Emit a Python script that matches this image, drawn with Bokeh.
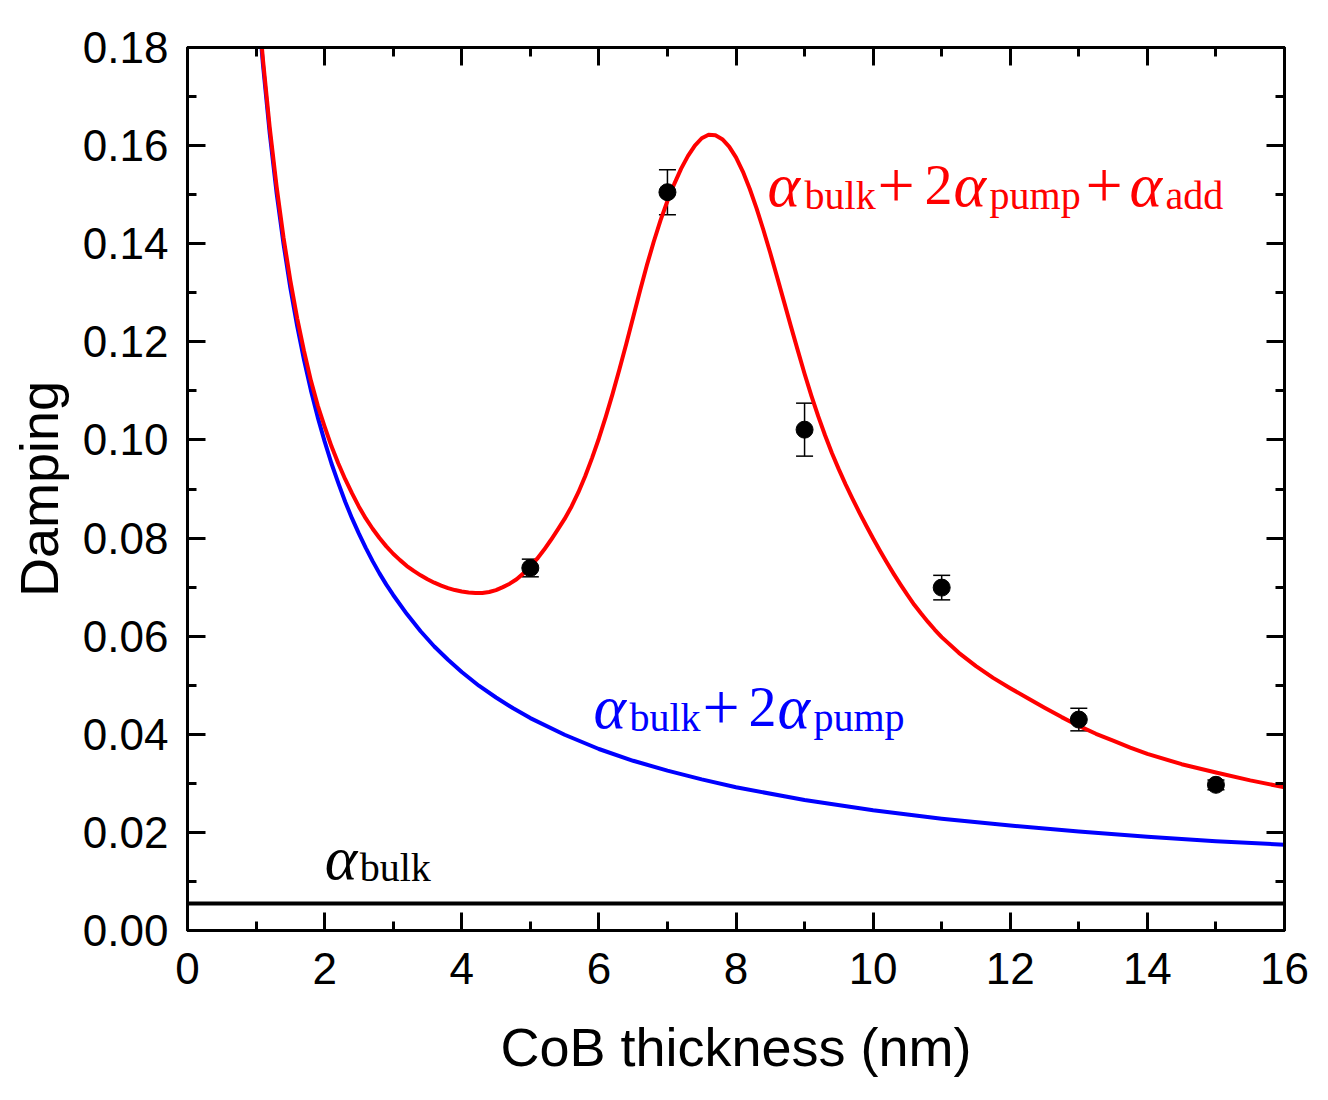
from bokeh.plotting import figure
from bokeh.models import (Range1d, LinearAxis, FixedTicker, PrintfTickFormatter,
                          ColumnDataSource, Whisker, TeeHead, Span, Label)
from bokeh.embed import file_html
from bokeh.resources import INLINE

# ---------------- data ----------------
thickness = [5, 7, 9, 11, 13, 15]
damping = [0.0739, 0.1505, 0.1021, 0.0699, 0.0430, 0.0297]
damping_err = [0.0018, 0.0046, 0.0054, 0.0025, 0.0023, 0.0010]

alpha_bulk = 0.0055

blue_t = [1.05, 1.1, 1.2, 1.3, 1.4, 1.5, 1.6, 1.7, 1.8, 1.9, 2.0, 2.1, 2.2, 2.3, 2.4,
          2.5, 2.6, 2.7, 2.8, 2.9, 3.0, 3.2, 3.4, 3.6, 3.8, 4.0, 4.25, 4.5, 4.75, 5.0,
          5.5, 6.0, 6.5, 7.0, 7.5, 8.0, 9.0, 10.0, 11.0, 12.0, 13.0, 14.0, 15.0, 16.0]
blue_v = [0.1848, 0.1766, 0.1624, 0.1503, 0.1400, 0.1310, 0.1232, 0.1163, 0.1101, 0.1046,
          0.0997, 0.0952, 0.0912, 0.0874, 0.0840, 0.0809, 0.0780, 0.0753, 0.0728, 0.0705,
          0.0684, 0.0645, 0.0610, 0.0579, 0.0552, 0.0527, 0.0499, 0.0475, 0.0453, 0.0433,
          0.0399, 0.0370, 0.0346, 0.0326, 0.0308, 0.0292, 0.0266, 0.0245, 0.0228, 0.0214,
          0.0202, 0.0191, 0.0182, 0.0175]

red_t = [1.05, 1.1, 1.2, 1.3, 1.4, 1.5, 1.6, 1.7, 1.8, 1.9,
         2.0, 2.1, 2.2, 2.3, 2.4, 2.5, 2.6, 2.7, 2.8, 2.9,
         3.0, 3.1, 3.2, 3.3, 3.4, 3.5, 3.6, 3.7, 3.8, 3.9,
         4.0, 4.1, 4.2, 4.3, 4.4, 4.5, 4.6, 4.7, 4.8, 4.9,
         5.0, 5.1, 5.2, 5.3, 5.4, 5.5, 5.6, 5.7, 5.8, 5.9,
         6.0, 6.1, 6.2, 6.3, 6.4, 6.5, 6.6, 6.7, 6.8, 6.9,
         7.0, 7.1, 7.2, 7.3, 7.4, 7.5, 7.6, 7.7, 7.8, 7.9,
         8.0, 8.1, 8.2, 8.3, 8.4, 8.5, 8.6, 8.7, 8.8, 8.9,
         9.0, 9.1, 9.2, 9.3, 9.4, 9.5, 9.6, 9.7, 9.8, 9.9,
         10.0, 10.1, 10.2, 10.3, 10.4, 10.5, 10.6, 10.7, 10.8, 10.9,
         11.0, 11.25, 11.5, 11.75, 12.0, 12.25, 12.5, 12.75, 13.0, 13.25, 13.5, 13.75,
         14.0, 14.5, 15.0, 15.5, 16.0]
red_v = [0.1858, 0.1776, 0.1636, 0.1516, 0.1413, 0.1325, 0.1248, 0.1181, 0.1121, 0.1070,
         0.1027, 0.0987, 0.0952, 0.0920, 0.0891, 0.0864, 0.0840, 0.0819, 0.0800, 0.0783,
         0.0768, 0.0755, 0.0743, 0.0733, 0.0724, 0.0716, 0.0709, 0.0703, 0.0698, 0.0694,
         0.0691, 0.0689, 0.0688, 0.0688, 0.0690, 0.0694, 0.0700, 0.0707, 0.0716, 0.0728,
         0.0742, 0.0758, 0.0776, 0.0796, 0.0817, 0.0839, 0.0864, 0.0893, 0.0926, 0.0963,
         0.1003, 0.1047, 0.1094, 0.1144, 0.1196, 0.1250, 0.1304, 0.1356, 0.1404, 0.1448,
         0.1487, 0.1522, 0.1553, 0.1579, 0.1600, 0.1615, 0.1622, 0.1621, 0.1613, 0.1598,
         0.1576, 0.1547, 0.1512, 0.1472, 0.1428, 0.1381, 0.1332, 0.1282, 0.1232, 0.1183,
         0.1135, 0.1090, 0.1048, 0.1009, 0.0973, 0.0940, 0.0909, 0.0880, 0.0852, 0.0825,
         0.0799, 0.0774, 0.0750, 0.0727, 0.0705, 0.0684, 0.0664, 0.0646, 0.0629, 0.0613,
         0.0598, 0.0566, 0.0539, 0.0515, 0.0494, 0.0474, 0.0454, 0.0435, 0.0417, 0.0401,
         0.0387, 0.0373, 0.0360, 0.0339, 0.0322, 0.0306, 0.0292]

x_ticks = [0, 2, 4, 6, 8, 10, 12, 14, 16]
x_minor = [1, 3, 5, 7, 9, 11, 13, 15]
y_ticks = [0.0, 0.02, 0.04, 0.06, 0.08, 0.10, 0.12, 0.14, 0.16, 0.18]
y_minor = [0.01, 0.03, 0.05, 0.07, 0.09, 0.11, 0.13, 0.15, 0.17]

x_label = "CoB thickness (nm)"
y_label = "Damping"

# ---------------- figure ----------------
p = figure(frame_width=1097, frame_height=883,
           x_range=Range1d(0, 16), y_range=Range1d(0, 0.18),
           output_backend="svg", toolbar_location=None,
           x_axis_location=None, y_axis_location=None,
           min_border_left=187, min_border_right=44,
           min_border_top=47, min_border_bottom=170)
p.grid.visible = False
p.outline_line_color = "black"
p.outline_line_width = 3
p.background_fill_color = "white"
p.border_fill_color = "white"

SANS = "Liberation Sans"
SERIF = "Liberation Serif"


def style_axis(ax, show_labels):
    ax.axis_line_width = 3
    ax.major_tick_line_width = 3
    ax.minor_tick_line_width = 3
    ax.major_tick_in = 18
    ax.major_tick_out = 0
    ax.minor_tick_in = 9
    ax.minor_tick_out = 0
    if show_labels:
        ax.major_label_text_font = SANS
        ax.major_label_text_font_size = "44px"
        ax.major_label_text_color = "black"
        ax.axis_label_text_font = SANS
        ax.axis_label_text_font_size = "54px"
        ax.axis_label_text_font_style = "normal"
        ax.axis_label_text_color = "black"
    else:
        ax.major_label_text_font_size = "1px"
        ax.major_label_text_color = None
        ax.major_label_standoff = 0


xb = LinearAxis(ticker=FixedTicker(ticks=x_ticks, minor_ticks=x_minor), axis_label=x_label)
style_axis(xb, True)
xb.major_label_standoff = 22
xb.axis_label_standoff = 30
p.add_layout(xb, "below")

xt = LinearAxis(ticker=FixedTicker(ticks=x_ticks, minor_ticks=x_minor))
style_axis(xt, False)
p.add_layout(xt, "above")

yl = LinearAxis(ticker=FixedTicker(ticks=y_ticks, minor_ticks=y_minor), axis_label=y_label,
                formatter=PrintfTickFormatter(format="%.2f"))
style_axis(yl, True)
yl.major_label_standoff = 19
yl.axis_label_standoff = 11
p.add_layout(yl, "left")

yr = LinearAxis(ticker=FixedTicker(ticks=y_ticks, minor_ticks=y_minor))
style_axis(yr, False)
p.add_layout(yr, "right")

# ---------------- marks ----------------
p.add_layout(Span(location=alpha_bulk, dimension="width", line_color="black", line_width=4))
p.line(blue_t, blue_v, line_color="#0000ff", line_width=4, line_join="round")
p.line(red_t, red_v, line_color="#ff0000", line_width=4, line_join="round")

err_src = ColumnDataSource(dict(
    x=thickness, y=damping,
    upper=[v + e for v, e in zip(damping, damping_err)],
    lower=[v - e for v, e in zip(damping, damping_err)]))
p.add_layout(Whisker(source=err_src, base="x", upper="upper", lower="lower",
                     line_color="black", line_width=1.5,
                     upper_head=TeeHead(size=17, line_width=1.5, line_color="black"),
                     lower_head=TeeHead(size=17, line_width=1.5, line_color="black")))
p.scatter("x", "y", source=err_src, size=17, color="black")

# ---------------- math-like labels ----------------
SIZES = {"a": "62px", "m": "56px", "p": "66px", "s": "40px"}
RAISE = 18


def math_label(x, y, pieces, color):
    for txt, dx, dy, kind in pieces:
        p.add_layout(Label(x=x, y=y, x_offset=dx, y_offset=dy + RAISE, text=txt,
                           text_font=SERIF, text_font_size=SIZES[kind],
                           text_font_style="italic" if kind == "a" else "normal",
                           text_color=color, text_baseline="alphabetic",
                           text_align="left"))


math_label(8.46, 0.1482, [("α", 0, 0, "a"), ("bulk", 37, -10, "s"), ("+", 110, 0, "p"),
                          ("2", 157, 0, "m"), ("α", 186, 0, "a"), ("pump", 222, -10, "s"),
                          ("+", 318, 0, "p"), ("α", 362, 0, "a"), ("add", 398, -10, "s")],
           "#ff0000")
math_label(5.92, 0.0418, [("α", 0, 0, "a"), ("bulk", 36, -10, "s"), ("+", 109, 0, "p"),
                          ("2", 155, 0, "m"), ("α", 184, 0, "a"), ("pump", 220, -10, "s")],
           "#0000ff")
math_label(2.0, 0.0112, [("α", 0, 0, "a"), ("bulk", 35, -10, "s")], "black")

open("out.html", "w").write(file_html(p, INLINE))
